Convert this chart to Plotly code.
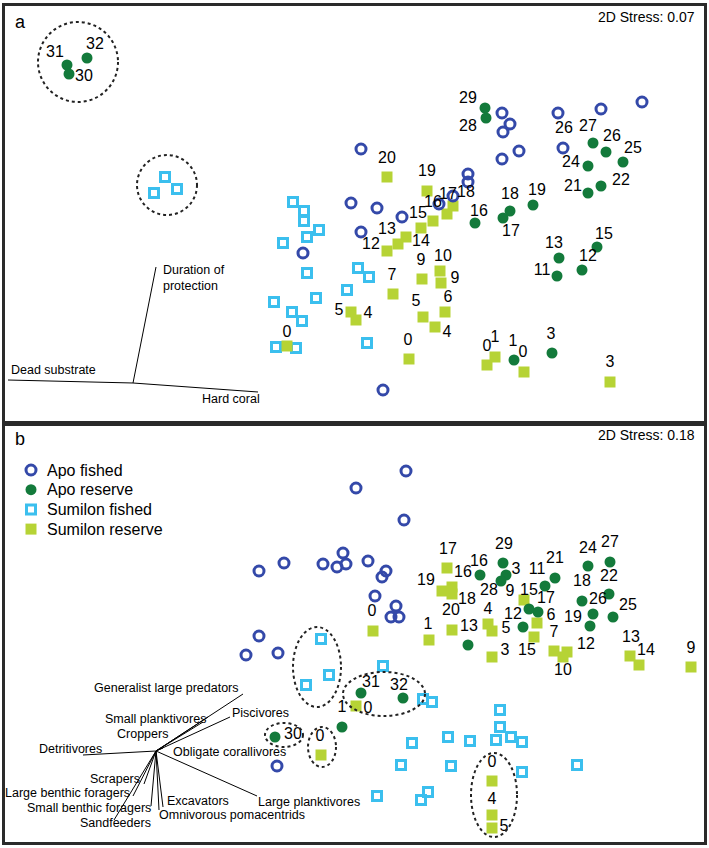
import plotly.graph_objects as go

FONT = "Liberation Sans, Arial, sans-serif"

# ---------------- Panel a (benthic habitat NMDS) ----------------
a_apo_fished_x = [502, 510, 503, 558, 601, 642, 563, 519, 502, 361, 468, 468, 453, 439, 351, 377, 402, 361, 303, 383]
a_apo_fished_y = [113, 124, 132, 113, 109, 102, 148, 151, 159, 149, 174, 182, 196, 204, 203, 208, 217, 232, 253, 390]

a_apo_reserve_x = [67, 69, 87, 485, 486, 593, 606, 623, 588, 601, 588, 475, 503, 510, 533, 559, 557, 582, 597, 514, 552]
a_apo_reserve_y = [65, 74, 58, 108, 118, 143, 152, 162, 166, 186, 193, 223, 218, 211, 205, 258, 276, 270, 247, 360, 353]

a_sum_fished_x = [165, 154, 177, 293, 304, 304, 319, 307, 283, 307, 347, 358, 369, 316, 274, 292, 302, 367, 276, 296]
a_sum_fished_y = [177, 193, 189, 202, 211, 221, 230, 237, 243, 273, 290, 268, 277, 298, 302, 312, 321, 343, 347, 348]

a_sum_reserve_x = [387, 427, 453, 447, 433, 421, 406, 398, 387, 422, 440, 441, 393, 423, 445, 435, 351, 356, 287, 409, 487, 495, 524, 610]
a_sum_reserve_y = [177, 191, 206, 214, 221, 228, 237, 244, 251, 279, 271, 283, 294, 317, 312, 327, 312, 320, 346, 359, 365, 357, 372, 382]

a_label_text = ["31", "32", "30", "29", "28", "26", "27", "26", "25", "24", "22", "21",
                "20", "19", "17", "18", "16", "18", "19", "16", "17",
                "15", "13", "12", "14", "13", "15", "12", "11",
                "9", "10", "9", "7", "5", "6", "4", "5", "4", "0",
                "0", "0", "1", "1", "0", "3", "3"]
a_label_x = [55, 95, 84, 468, 468, 564, 588, 612, 633, 571, 621, 573,
             387, 427, 448, 466, 433, 510, 537, 479, 511,
             418, 387, 371, 421, 554, 604, 588, 542,
             421, 443, 455, 392, 416, 448, 447, 339, 368, 287,
             408, 487, 495, 513, 523, 551, 610]
a_label_y = [53, 45, 77, 99, 127, 129, 127, 137, 149, 163, 181, 187,
             159, 172, 195, 193, 203, 195, 191, 212, 232,
             214, 230, 245, 242, 244, 235, 257, 271,
             261, 257, 279, 276, 302, 298, 333, 311, 314, 333,
             341, 347, 338, 342, 353, 335, 363]

a_origin = [133, 383]
a_vec_names = ["Dead substrate", "Hard coral", "Duration of protection"]
a_vec_end_x = [8, 258, 156]
a_vec_end_y = [380, 392, 267]

# ---------------- Panel b (fish functional groups NMDS) ----------------
b_apo_fished_x = [406, 356, 404, 343, 284, 259, 323, 337, 346, 368, 386, 382, 375, 396, 391, 399, 259, 246, 278, 277]
b_apo_fished_y = [471, 488, 520, 553, 563, 571, 564, 567, 564, 561, 571, 577, 596, 606, 617, 617, 636, 655, 653, 766]

b_apo_reserve_x = [503, 480, 506, 501, 545, 555, 588, 610, 609, 582, 593, 613, 590, 529, 538, 523, 468, 361, 403, 342, 275]
b_apo_reserve_y = [563, 575, 575, 581, 586, 578, 566, 562, 594, 601, 614, 617, 626, 609, 612, 627, 645, 693, 698, 727, 737]

b_sum_fished_x = [321, 329, 306, 383, 423, 432, 500, 500, 496, 511, 522, 470, 448, 412, 401, 451, 522, 577, 377, 428, 421]
b_sum_fished_y = [639, 675, 685, 666, 699, 702, 710, 727, 740, 737, 742, 741, 737, 743, 765, 766, 772, 765, 796, 792, 800]

b_sum_reserve_x = [447, 442, 452, 452, 373, 429, 452, 488, 492, 492, 524, 537, 534, 554, 567, 563, 630, 639, 691, 356, 321, 492, 492, 492]
b_sum_reserve_y = [568, 591, 587, 594, 631, 640, 630, 624, 631, 657, 600, 623, 637, 651, 652, 657, 656, 665, 667, 706, 755, 781, 815, 828]

b_label_text = ["17", "16", "29", "3", "16", "19", "18", "28", "9", "11", "21", "24", "27", "22", "18",
                "26", "25", "19", "15", "17", "6", "12", "4", "5", "20", "13", "0", "1", "3", "15",
                "7", "12", "10", "13", "14", "9", "31", "32", "1", "0", "30", "0", "0", "4", "5"]
b_label_x = [448, 479, 504, 516, 463, 426, 467, 489, 510, 537, 555, 588, 610, 609, 582,
             598, 628, 573, 529, 546, 551, 513, 488, 506, 451, 469, 372, 428, 505, 527,
             554, 586, 563, 631, 646, 691, 371, 399, 342, 368, 293, 320, 492, 492, 504]
b_label_y = [550, 562, 545, 570, 573, 581, 600, 591, 592, 570, 559, 549, 543, 577, 582,
             600, 606, 618, 591, 599, 616, 615, 610, 629, 611, 627, 612, 625, 651, 651,
             633, 645, 671, 638, 651, 649, 683, 686, 708, 709, 735, 737, 763, 800, 827]

b_origin = [156, 751]
b_vec_names = ["Generalist large predators", "Piscivores", "Small planktivores", "Croppers",
               "Detritivores", "Obligate corallivores", "Large planktivores", "Scrapers",
               "Large benthic foragers", "Small benthic foragers", "Sandfeeders",
               "Excavators", "Omnivorous pomacentrids"]
b_vec_end_x = [243, 230, 208, 203, 83, 163, 257, 144, 133, 151, 114, 163, 159]
b_vec_end_y = [694, 717, 717, 722, 755, 748, 796, 784, 796, 806, 820, 807, 810]

legend_names = ["Apo fished", "Apo reserve", "Sumilon fished", "Sumilon reserve"]

# ---------------- styling / layout helpers ----------------
a_vec_label_pos = [("left", 9, 370), ("right", 262, 399), ("left", 161, 278)]
b_vec_label_pos = [("right", 241, 688), ("left", 230, 713), ("right", 208, 719), ("right", 170, 734),
                   ("left", 37, 749), ("left", 171, 752), ("left", 256, 802), ("right", 142, 779),
                   ("right", 132, 793), ("right", 153, 808), ("left", 78, 823), ("left", 165, 801),
                   ("left", 157, 815)]

a_rings = [(78, 62, 40, 40), (167, 185, 30, 30)]
b_rings = [(317, 667, 24, 40), (384, 694, 41, 22), (284, 735, 19, 12), (322, 747, 14, 20), (494, 795, 23, 42)]

# legend placement (panel b axis units)
LEG_SYM_X, LEG_TXT_X, LEG_Y0, LEG_DY = 31, 45, 470, 19.7

C_APO_F = "#3449a9"
C_APO_R = "#137a3b"
C_SUM_F = "#3bbfee"
C_SUM_R = "#b6d335"

MARKERS = {
    "Apo fished": dict(symbol="circle-open", size=10, color=C_APO_F, line=dict(width=3, color=C_APO_F)),
    "Apo reserve": dict(symbol="circle", size=11, color=C_APO_R, line=dict(width=0)),
    "Sumilon fished": dict(symbol="square-open", size=9, color=C_SUM_F, line=dict(width=3, color=C_SUM_F)),
    "Sumilon reserve": dict(symbol="square", size=11, color=C_SUM_R, line=dict(width=0)),
}

# drawing order (back to front)
groups = [
    ("Sumilon fished", (a_sum_fished_x, a_sum_fished_y), (b_sum_fished_x, b_sum_fished_y)),
    ("Sumilon reserve", (a_sum_reserve_x, a_sum_reserve_y), (b_sum_reserve_x, b_sum_reserve_y)),
    ("Apo reserve", (a_apo_reserve_x, a_apo_reserve_y), (b_apo_reserve_x, b_apo_reserve_y)),
    ("Apo fished", (a_apo_fished_x, a_apo_fished_y), (b_apo_fished_x, b_apo_fished_y)),
]

fig = go.Figure()


def vec_lines(origin, ex, ey):
    xs, ys = [], []
    for x, y in zip(ex, ey):
        xs += [origin[0], x, None]
        ys += [origin[1], y, None]
    return xs, ys


for ax, ay, origin, ex, ey in [("x", "y", a_origin, a_vec_end_x, a_vec_end_y),
                               ("x2", "y2", b_origin, b_vec_end_x, b_vec_end_y)]:
    xs, ys = vec_lines(origin, ex, ey)
    fig.add_trace(go.Scatter(x=xs, y=ys, mode="lines", line=dict(color="black", width=1),
                             showlegend=False, hoverinfo="skip", xaxis=ax, yaxis=ay))

for name, da, db in groups:
    fig.add_trace(go.Scatter(x=da[0], y=da[1], mode="markers", marker=MARKERS[name], name=name,
                             showlegend=False, xaxis="x", yaxis="y"))
    fig.add_trace(go.Scatter(x=db[0], y=db[1], mode="markers", marker=MARKERS[name], name=name,
                             showlegend=False, xaxis="x2", yaxis="y2"))

for ax, ay, tx, xx, yy in [("x", "y", a_label_text, a_label_x, a_label_y),
                           ("x2", "y2", b_label_text, b_label_x, b_label_y)]:
    fig.add_trace(go.Scatter(x=xx, y=yy, text=tx, mode="text", textposition="middle center",
                             textfont=dict(family=FONT, size=16, color="black"),
                             showlegend=False, hoverinfo="skip", cliponaxis=False, xaxis=ax, yaxis=ay))

annotations = []
# manual legend (panel b, top-left)
for i, nm in enumerate(legend_names):
    ly = LEG_Y0 + i * LEG_DY
    fig.add_trace(go.Scatter(x=[LEG_SYM_X], y=[ly], mode="markers", marker=MARKERS[nm], name=nm,
                             showlegend=False, hoverinfo="skip", xaxis="x2", yaxis="y2"))
    annotations.append(dict(x=LEG_TXT_X, y=ly, xref="x2", yref="y2", text=nm, showarrow=False,
                            xanchor="left", yanchor="middle",
                            font=dict(family=FONT, size=16, color="black")))

for names, pos, xr, yr in [(a_vec_names, a_vec_label_pos, "x", "y"), (b_vec_names, b_vec_label_pos, "x2", "y2")]:
    for nm, (anc, lx, ly) in zip(names, pos):
        txt = "Duration of<br>protection" if nm == "Duration of protection" else nm
        annotations.append(dict(x=lx, y=ly, xref=xr, yref=yr, text=txt, showarrow=False,
                                xanchor=anc, yanchor="middle", align="left",
                                font=dict(family=FONT, size=12.5, color="black")))

annotations += [
    dict(x=20, y=22, xref="x", yref="y", text="a", showarrow=False, xanchor="center", yanchor="middle",
         font=dict(family=FONT, size=18, color="black")),
    dict(x=20, y=439, xref="x2", yref="y2", text="b", showarrow=False, xanchor="center", yanchor="middle",
         font=dict(family=FONT, size=18, color="black")),
    dict(x=697, y=17, xref="x", yref="y", text="2D Stress: 0.07", showarrow=False, xanchor="right",
         yanchor="middle", font=dict(family=FONT, size=14, color="black")),
    dict(x=697, y=435, xref="x2", yref="y2", text="2D Stress: 0.18", showarrow=False, xanchor="right",
         yanchor="middle", font=dict(family=FONT, size=14, color="black")),
]

shapes = []
for rings, xr, yr in [(a_rings, "x", "y"), (b_rings, "x2", "y2")]:
    for cx, cy, rx, ry in rings:
        shapes.append(dict(type="circle", xref=xr, yref=yr, x0=cx - rx, x1=cx + rx, y0=cy - ry, y1=cy + ry,
                           line=dict(color="#222222", width=2, dash="3px,3px")))

W, H = 709, 848
axis_common = dict(showgrid=False, zeroline=False, showticklabels=False, ticks="", showline=True,
                   mirror=True, linecolor="#2a2a2a", linewidth=3, fixedrange=True)

fig.update_layout(
    width=W, height=H, margin=dict(l=0, r=0, t=0, b=0),
    paper_bgcolor="white", plot_bgcolor="white",
    xaxis=dict(domain=[5 / W, 704 / W], range=[5, 704], anchor="y", **axis_common),
    yaxis=dict(domain=[(H - 423) / H, (H - 6) / H], range=[423, 6], anchor="x", **axis_common),
    xaxis2=dict(domain=[5 / W, 704 / W], range=[5, 704], anchor="y2", **axis_common),
    yaxis2=dict(domain=[(H - 842) / H, (H - 424) / H], range=[842, 424], anchor="x2", **axis_common),
    annotations=annotations, shapes=shapes,
    font=dict(family=FONT),
    showlegend=False,
)

fig.write_html("out.html", config={"displayModeBar": False},
               post_script="document.body.style.margin='0';document.body.style.padding='0';"
                           "document.body.style.overflow='hidden';")
